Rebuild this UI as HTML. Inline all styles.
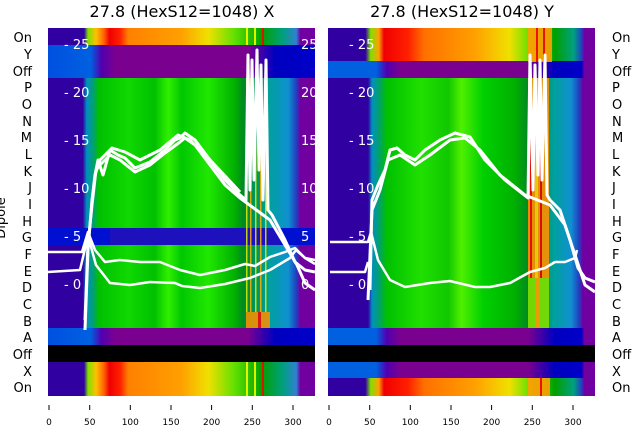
<!DOCTYPE html>
<html><head><meta charset="utf-8"><style>
html,body{margin:0;padding:0;background:#fff;width:640px;height:440px;overflow:hidden}
svg{display:block}
text{font-family:"DejaVu Sans","Liberation Sans",sans-serif}
</style></head><body>
<svg width="640" height="440" viewBox="0 0 640 440" xmlns="http://www.w3.org/2000/svg">
<defs>
<linearGradient id="gL" x1="0" x2="1" y1="0" y2="0">
<stop offset="0" stop-color="#3000a0"/><stop offset="0.13" stop-color="#3000a0"/>
<stop offset="0.145" stop-color="#0090c0"/><stop offset="0.17" stop-color="#00a070"/>
<stop offset="0.19" stop-color="#00c000"/><stop offset="0.3" stop-color="#10d800"/>
<stop offset="0.4" stop-color="#00c000"/><stop offset="0.45" stop-color="#30f000"/>
<stop offset="0.5" stop-color="#00c800"/><stop offset="0.6" stop-color="#20e800"/>
<stop offset="0.7" stop-color="#00b000"/><stop offset="0.73" stop-color="#008a20"/>
<stop offset="0.83" stop-color="#00a0a0"/><stop offset="0.9" stop-color="#1090d0"/>
<stop offset="0.93" stop-color="#2040c0"/><stop offset="0.945" stop-color="#7000a0"/>
<stop offset="1" stop-color="#7000a0"/></linearGradient>
<linearGradient id="oL" x1="0" x2="1" y1="0" y2="0">
<stop offset="0" stop-color="#3000a0"/><stop offset="0.135" stop-color="#3000a0"/>
<stop offset="0.15" stop-color="#80e000"/><stop offset="0.18" stop-color="#ffc000"/>
<stop offset="0.21" stop-color="#ff6000"/><stop offset="0.23" stop-color="#f00000"/>
<stop offset="0.27" stop-color="#ff2000"/><stop offset="0.3" stop-color="#ff8000"/>
<stop offset="0.5" stop-color="#ffa000"/><stop offset="0.6" stop-color="#f0e000"/>
<stop offset="0.7" stop-color="#60e000"/><stop offset="0.8" stop-color="#00a000"/>
<stop offset="0.88" stop-color="#00a080"/><stop offset="0.93" stop-color="#3080d0"/>
<stop offset="0.945" stop-color="#7000a0"/><stop offset="1" stop-color="#7000a0"/></linearGradient>
<linearGradient id="pL" x1="0" x2="1" y1="0" y2="0">
<stop offset="0" stop-color="#0050e0"/><stop offset="0.16" stop-color="#0060e0"/>
<stop offset="0.2" stop-color="#5000b0"/><stop offset="0.25" stop-color="#7a0090"/>
<stop offset="0.75" stop-color="#7a0090"/><stop offset="0.85" stop-color="#0000c0"/>
<stop offset="1" stop-color="#0000c8"/></linearGradient>
<linearGradient id="gR" x1="0" x2="1" y1="0" y2="0">
<stop offset="0" stop-color="#3000a0"/><stop offset="0.15" stop-color="#3000a0"/>
<stop offset="0.165" stop-color="#0090c0"/><stop offset="0.19" stop-color="#00a070"/>
<stop offset="0.22" stop-color="#00c000"/><stop offset="0.35" stop-color="#20e000"/>
<stop offset="0.45" stop-color="#10c800"/><stop offset="0.5" stop-color="#50f000"/>
<stop offset="0.58" stop-color="#00d000"/><stop offset="0.7" stop-color="#00b000"/>
<stop offset="0.75" stop-color="#008a20"/><stop offset="0.85" stop-color="#00a0a0"/>
<stop offset="0.91" stop-color="#1090d0"/><stop offset="0.94" stop-color="#2040c0"/>
<stop offset="0.955" stop-color="#7000a0"/><stop offset="1" stop-color="#7000a0"/></linearGradient>
<linearGradient id="oR" x1="0" x2="1" y1="0" y2="0">
<stop offset="0" stop-color="#3000a0"/><stop offset="0.14" stop-color="#3000a0"/>
<stop offset="0.16" stop-color="#80e000"/><stop offset="0.19" stop-color="#ffa000"/>
<stop offset="0.21" stop-color="#f00000"/><stop offset="0.3" stop-color="#ff2000"/>
<stop offset="0.36" stop-color="#ff7000"/><stop offset="0.55" stop-color="#ffa000"/>
<stop offset="0.68" stop-color="#f0e000"/><stop offset="0.74" stop-color="#80e000"/>
<stop offset="0.85" stop-color="#00a000"/><stop offset="0.92" stop-color="#00a080"/>
<stop offset="0.95" stop-color="#2040c0"/><stop offset="0.96" stop-color="#7000a0"/>
<stop offset="1" stop-color="#7000a0"/></linearGradient>
<linearGradient id="pR" x1="0" x2="1" y1="0" y2="0">
<stop offset="0" stop-color="#0060e0"/><stop offset="0.18" stop-color="#0060e0"/>
<stop offset="0.22" stop-color="#5000b0"/><stop offset="0.27" stop-color="#7a0090"/>
<stop offset="0.75" stop-color="#7a0090"/><stop offset="0.85" stop-color="#0000c0"/>
<stop offset="0.95" stop-color="#0000c8"/><stop offset="0.96" stop-color="#7000a0"/>
<stop offset="1" stop-color="#7000a0"/></linearGradient>
</defs>

<text x="182" y="17" font-size="16" text-anchor="middle">27.8 (HexS12=1048) X</text>
<text x="462" y="17" font-size="16" text-anchor="middle">27.8 (HexS12=1048) Y</text>

<!-- LEFT PANEL -->
<g>
<rect x="48" y="28" width="267" height="17" fill="url(#oL)"/>
<rect x="48" y="45" width="267" height="17" fill="url(#pL)"/>
<rect x="48" y="61" width="267" height="17" fill="url(#pL)"/>
<rect x="48" y="78" width="267" height="150" fill="url(#gL)"/>
<rect x="48" y="228" width="267" height="17" fill="#0010d0"/>
<rect x="110" y="228" width="170" height="17" fill="#3010b0" opacity="0.6"/>
<rect x="48" y="245" width="267" height="83" fill="url(#gL)"/>
<rect x="48" y="328" width="267" height="17" fill="url(#pL)"/>
<rect x="48" y="345" width="267" height="17" fill="#000"/>
<rect x="48" y="362" width="267" height="34" fill="url(#oL)"/>
<g opacity="0.85">
<rect x="246" y="28" width="2" height="17" fill="#ff0"/><rect x="254" y="28" width="2" height="17" fill="#ff0"/><rect x="262" y="28" width="2" height="17" fill="#f00"/>
<rect x="246" y="78" width="1.5" height="250" fill="#e0f000"/><rect x="250" y="78" width="1.5" height="250" fill="#ffb000"/><rect x="255" y="78" width="1.5" height="250" fill="#e0f000"/><rect x="260" y="78" width="1.5" height="250" fill="#ffb000"/><rect x="265" y="78" width="1.5" height="250" fill="#e0f000"/>
<rect x="246" y="312" width="24" height="16" fill="#ff9000"/><rect x="258" y="312" width="3" height="16" fill="#f00"/>
<rect x="246" y="362" width="2" height="34" fill="#ff0"/><rect x="254" y="362" width="2" height="34" fill="#ff0"/><rect x="262" y="362" width="2" height="34" fill="#f00"/>
</g>
<g fill="#fff" font-size="13">
<text x="64" y="49">- 25</text><text x="64" y="97">- 20</text><text x="64" y="145">- 15</text>
<text x="64" y="193">- 10</text><text x="64" y="241">- 5</text><text x="64" y="289">- 0</text>
<text x="301" y="49">25</text><text x="301" y="97">20</text><text x="301" y="145">15</text>
<text x="301" y="193">10</text><text x="301" y="241">5</text><text x="301" y="289">0</text>
</g>
<g fill="none" stroke="#fff" stroke-width="3" stroke-linejoin="round">
<path d="M85,330 L88,250 L92,200 L95,175 L98,160 L103,175 L110,150 L118,155 L125,158 L135,168 L150,162 L165,150 L175,140 L180,138 L185,133 L195,140 L210,160 L225,180 L240,195 L246,200 L248,55 L250,190 L252,60 L254,180 L257,50 L259,170 L261,65 L263,200 L266,60 L268,210 L272,215 L285,240 L295,262 L305,270 L315,272"/>
<path d="M85,320 L88,245 L92,205 L96,170 L100,165 L110,155 L120,160 L135,172 L150,165 L165,153 L180,142 L185,138 L195,145 L210,165 L225,185 L240,198 L270,220 L285,245 L297,265 L305,283 L315,290"/>
<path d="M95,175 L100,160 L112,148 L125,152 L140,160 L160,150 L178,135 L190,140 L212,162 L240,192"/>
</g>
<g fill="none" stroke="#fff" stroke-width="2.5" stroke-linejoin="round">
<path d="M48,252 L82,252 L88,232 L95,250 L105,262 L120,260 L140,262 L160,262 L180,270 L200,275 L225,270 L245,264 L255,266 L270,257 L285,252 L295,248 L305,258 L315,260"/>
<path d="M48,272 L80,270 L88,236 L96,265 L110,283 L130,285 L150,282 L175,283 L182,286 L200,288 L225,284 L250,278 L270,270 L290,258 L296,250 L305,258 L315,264"/>
</g>
</g>

<!-- RIGHT PANEL -->
<g>
<rect x="328" y="28" width="267" height="34" fill="url(#oR)"/>
<rect x="328" y="61" width="267" height="17" fill="url(#pR)"/>
<rect x="328" y="78" width="267" height="250" fill="url(#gR)"/>
<rect x="328" y="328" width="267" height="17" fill="url(#pR)"/>
<rect x="328" y="345" width="267" height="17" fill="#000"/>
<rect x="328" y="362" width="267" height="17" fill="url(#pR)"/>
<rect x="328" y="378" width="267" height="18" fill="url(#oR)"/>
<g opacity="0.9">
<rect x="528" y="28" width="24" height="34" fill="#ffa000"/><rect x="536" y="28" width="2" height="34" fill="#f00"/><rect x="543" y="28" width="2" height="34" fill="#f00"/>
<rect x="528" y="78" width="21" height="200" fill="#ff9000"/><rect x="530" y="78" width="2" height="200" fill="#f00"/><rect x="540" y="78" width="2" height="200" fill="#e00"/><rect x="535" y="78" width="3" height="200" fill="#ffd000"/>
<rect x="528" y="278" width="21" height="50" fill="#80e000"/><rect x="536" y="278" width="3" height="50" fill="#ffa000"/>
<rect x="528" y="378" width="22" height="18" fill="#ffa000"/><rect x="540" y="378" width="2" height="18" fill="#f00"/>
</g>
<g fill="#fff" font-size="13">
<text x="349" y="49">- 25</text><text x="349" y="97">- 20</text><text x="349" y="145">- 15</text>
<text x="349" y="193">- 10</text><text x="349" y="241">- 5</text><text x="349" y="289">- 0</text>
</g>
<g fill="none" stroke="#fff" stroke-width="3" stroke-linejoin="round">
<path d="M370,290 L372,200 L378,185 L385,170 L390,150 L397,148 L405,155 L415,160 L425,150 L440,140 L455,133 L470,137 L485,160 L505,180 L528,198 L530,55 L533,190 L535,65 L538,175 L540,60 L542,180 L545,55 L547,195 L550,200 L560,210 L570,240 L578,268 L585,278 L595,282"/>
<path d="M368,300 L372,210 L380,190 L388,160 L400,155 L415,165 L430,155 L450,140 L465,138 L480,150 L500,175 L525,195 L550,205 L565,225 L575,255 L585,285 L595,292"/>
</g>
<g fill="none" stroke="#fff" stroke-width="2.5" stroke-linejoin="round">
<path d="M330,242 L368,242 L371,232 L378,260 L390,280 L405,287 L430,283 L450,281 L475,287 L490,287 L510,283 L530,272 L545,268 L555,262 L565,262 L575,258 L577,250"/>
<path d="M330,272 L365,272 L368,262"/>
</g>
</g>

<g font-size="13" text-anchor="end">
<text x="32" y="42">On</text><text x="32" y="59">Y</text><text x="32" y="76">Off</text>
<text x="32" y="92">P</text><text x="32" y="109">O</text><text x="32" y="126">N</text>
<text x="32" y="142">M</text><text x="32" y="159">L</text><text x="32" y="176">K</text>
<text x="32" y="192">J</text><text x="32" y="209">I</text><text x="32" y="226">H</text>
<text x="32" y="242">G</text><text x="32" y="259">F</text><text x="32" y="276">E</text>
<text x="32" y="292">D</text><text x="32" y="309">C</text><text x="32" y="326">B</text>
<text x="32" y="342">A</text><text x="32" y="359">Off</text><text x="32" y="376">X</text>
<text x="32" y="392">On</text>
</g>
<text transform="translate(5,218) rotate(-90)" font-size="13" text-anchor="middle">Dipole</text>
<g font-size="13">
<text x="612" y="42">On</text><text x="612" y="59">Y</text><text x="612" y="76">Off</text>
<text x="612" y="92">P</text><text x="612" y="109">O</text><text x="612" y="126">N</text>
<text x="612" y="142">M</text><text x="612" y="159">L</text><text x="612" y="176">K</text>
<text x="612" y="192">J</text><text x="612" y="209">I</text><text x="612" y="226">H</text>
<text x="612" y="242">G</text><text x="612" y="259">F</text><text x="612" y="276">E</text>
<text x="612" y="292">D</text><text x="612" y="309">C</text><text x="612" y="326">B</text>
<text x="612" y="342">A</text><text x="612" y="359">Off</text><text x="612" y="376">X</text>
<text x="612" y="392">On</text>
</g>

<g stroke="#000" stroke-width="1">
<path d="M49,405v5M89.7,405v5M130.3,405v5M171,405v5M211.6,405v5M252.3,405v5M293,405v5"/>
<path d="M329,405v5M369.7,405v5M410.3,405v5M451,405v5M491.6,405v5M532.3,405v5M573,405v5"/>
</g>
<g font-size="9" text-anchor="middle">
<text x="49" y="425">0</text><text x="89.7" y="425">50</text><text x="130.3" y="425">100</text><text x="171" y="425">150</text><text x="211.6" y="425">200</text><text x="252.3" y="425">250</text><text x="293" y="425">300</text>
<text x="329" y="425">0</text><text x="369.7" y="425">50</text><text x="410.3" y="425">100</text><text x="451" y="425">150</text><text x="491.6" y="425">200</text><text x="532.3" y="425">250</text><text x="573" y="425">300</text>
</g>
</svg>
</body></html>
